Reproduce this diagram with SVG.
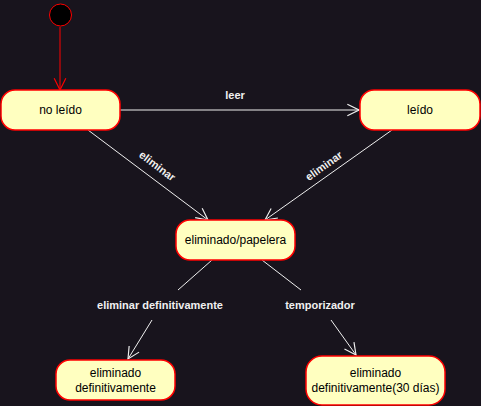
<svg xmlns="http://www.w3.org/2000/svg" width="481" height="406" viewBox="0 0 481 406">
<defs>
<style>
.node{fill:#ffffc0;stroke:#ff0000;stroke-width:1.5}
.nt{font-family:"Liberation Sans",Arial,sans-serif;font-size:12px;fill:#000;text-anchor:middle}
.edge{fill:none;stroke:#f0f0f0;stroke-width:1}
.lbl{font-family:"Liberation Sans",Arial,sans-serif;font-size:11px;font-weight:bold;fill:#f0f0f0;text-anchor:middle}
</style>
<marker id="arr" markerUnits="userSpaceOnUse" markerWidth="14" markerHeight="14" viewBox="0 0 12 12" refX="11" refY="6" orient="auto">
<path d="M1,1 L11,6 L1,11" fill="none" stroke="#f0f0f0" stroke-width="1"/>
</marker>
<marker id="arrR" markerUnits="userSpaceOnUse" markerWidth="14" markerHeight="14" viewBox="0 0 12 12" refX="11" refY="6" orient="auto">
<path d="M1,1 L11,6 L1,11" fill="none" stroke="#ff0000" stroke-width="1"/>
</marker>
</defs>
<rect x="0" y="0" width="481" height="406" fill="#18141d"/>
<g id="connectors">
<line x1="60" y1="27" x2="60" y2="90" stroke="#ff0000" stroke-width="1" marker-end="url(#arrR)"/>
<line class="edge" x1="120" y1="110" x2="359" y2="110" marker-end="url(#arr)"/>
<text class="lbl" x="235" y="99">leer</text>
<line class="edge" x1="88" y1="130" x2="208" y2="220" marker-end="url(#arr)"/>
<text class="lbl" transform="translate(155,169) rotate(36.9)" x="0" y="0">eliminar</text>
<line class="edge" x1="392" y1="130" x2="265" y2="220" marker-end="url(#arr)"/>
<text class="lbl" transform="translate(326,169) rotate(-35.3)" x="0" y="0">eliminar</text>
<line class="edge" x1="212" y1="260" x2="178" y2="290"/>
<line class="edge" x1="152" y1="320" x2="128" y2="359" marker-end="url(#arr)"/>
<text class="lbl" x="160" y="309">eliminar definitivamente</text>
<line class="edge" x1="262" y1="260" x2="301" y2="290"/>
<line class="edge" x1="331" y1="320" x2="356" y2="355" marker-end="url(#arr)"/>
<text class="lbl" x="320" y="309">temporizador</text>
</g>
<g id="initial">
<circle cx="60.5" cy="15" r="11" fill="#000" stroke="#ff0000" stroke-width="1"/>
</g>
<g id="no-leido">
<rect class="node" x="1" y="90" width="119" height="40" rx="14"/>
<text class="nt" x="60.5" y="114">no leído</text>
</g>
<g id="leido">
<rect class="node" x="360" y="90" width="120" height="40" rx="14"/>
<text class="nt" x="420" y="114">leído</text>
</g>
<g id="papelera">
<rect class="node" x="176" y="220" width="119" height="40" rx="14"/>
<text class="nt" x="235.5" y="244">eliminado/papelera</text>
</g>
<g id="definitivo">
<rect class="node" x="56" y="360" width="119" height="40" rx="14"/>
<text class="nt" x="115.5" y="377">eliminado</text>
<text class="nt" x="115.5" y="392">definitivamente</text>
</g>
<g id="definitivo30">
<rect class="node" x="306" y="356" width="139" height="49" rx="16"/>
<text class="nt" x="375.5" y="377">eliminado</text>
<text class="nt" x="375.5" y="392">definitivamente(30 días)</text>
</g>
</svg>
